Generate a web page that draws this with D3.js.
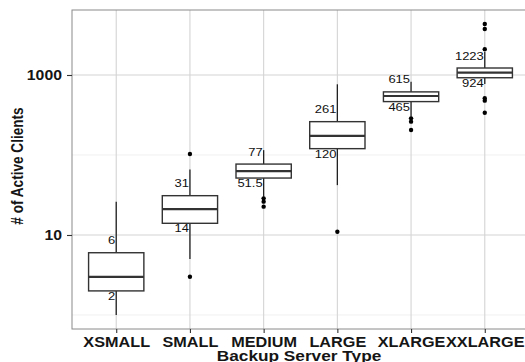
<!DOCTYPE html>
<html>
<head>
<meta charset="utf-8">
<script src="https://cdn.jsdelivr.net/npm/d3@7"></script>
<style>
  body { margin: 0; background: #fff; }
  svg { display: block; }
</style>
</head>
<body>
<script>
// data
var categories = ["XSMALL", "SMALL", "MEDIUM", "LARGE", "XLARGE", "XXLARGE"];
var q1 = [2, 14, 51.5, 120, 465, 924];
var q3 = [6, 31, 77, 261, 615, 1223];
var medians = [3, 21, 63, 173, 546, 1069];
var whiskerLow = [1, 5, 30, 42, 301, 772];
var whiskerHigh = [26, 66, 115, 765, 824, 1939];
var outliers = [
  [],
  [3, 103],
  [28.7, 26.1, 22.6],
  [11],
  [287, 261, 205],
  [4341, 3758, 2095, 511, 478, 338]
];
var labelsHigh = ["6", "31", "77", "261", "615", "1223"];
var labelsLow = ["2", "14", "51.5", "120", "465", "924"];
var yTicks = [10, 1000];
var yMinor = [1, 100];

var W = 525, H = 362;
var PANEL = { left: 72, right: 529, top: 10, bottom: 329 };
var FONT = "'Liberation Sans', Arial, Helvetica, sans-serif";
var SX = 1.16; // text in the picture is stretched sideways
var TXT = "#151515";

var svg = d3.select("body").append("svg")
  .attr("width", W)
  .attr("height", H);

var x = d3.scalePoint()
  .domain(categories)
  .range([PANEL.left, PANEL.right])
  .padding(0.6);

var y = d3.scaleLog()
  .domain([0.668, 6494])
  .range([PANEL.bottom, PANEL.top]);

var step = x.step();
var boxW = step * 0.75;

var rows = categories.map(function(c, i) {
  return {
    cat: c, q1: q1[i], q3: q3[i], med: medians[i],
    lo: whiskerLow[i], hi: whiskerHigh[i], out: outliers[i],
    lh: labelsHigh[i], ll: labelsLow[i]
  };
});

// grid
var grid = svg.append("g");
grid.selectAll(".minor").data(yMinor).enter().append("line")
  .attr("x1", PANEL.left).attr("x2", PANEL.right)
  .attr("y1", function(d) { return y(d); })
  .attr("y2", function(d) { return y(d); })
  .style("stroke", "#f0f0f0").style("stroke-width", 1);
grid.selectAll(".major").data(yTicks).enter().append("line")
  .attr("x1", PANEL.left).attr("x2", PANEL.right)
  .attr("y1", function(d) { return y(d); })
  .attr("y2", function(d) { return y(d); })
  .style("stroke", "#d4d4d4").style("stroke-width", 1.1);
grid.selectAll(".vmajor").data(categories).enter().append("line")
  .attr("x1", function(d) { return x(d); })
  .attr("x2", function(d) { return x(d); })
  .attr("y1", PANEL.top).attr("y2", PANEL.bottom)
  .style("stroke", "#d4d4d4").style("stroke-width", 1.1);

// boxes
var g = svg.append("g");
var box = g.selectAll(".box").data(rows).enter().append("g");

box.append("line")
  .attr("x1", function(d) { return x(d.cat); })
  .attr("x2", function(d) { return x(d.cat); })
  .attr("y1", function(d) { return y(d.hi); })
  .attr("y2", function(d) { return y(d.q3); })
  .style("stroke", "#222").style("stroke-width", 1.3);
box.append("line")
  .attr("x1", function(d) { return x(d.cat); })
  .attr("x2", function(d) { return x(d.cat); })
  .attr("y1", function(d) { return y(d.q1); })
  .attr("y2", function(d) { return y(d.lo); })
  .style("stroke", "#222").style("stroke-width", 1.3);
box.append("rect")
  .attr("x", function(d) { return x(d.cat) - boxW / 2; })
  .attr("y", function(d) { return y(d.q3); })
  .attr("width", boxW)
  .attr("height", function(d) { return y(d.q1) - y(d.q3); })
  .style("fill", "#fff").style("stroke", "#333").style("stroke-width", 1.4);
box.append("line")
  .attr("x1", function(d) { return x(d.cat) - boxW / 2; })
  .attr("x2", function(d) { return x(d.cat) + boxW / 2; })
  .attr("y1", function(d) { return y(d.med); })
  .attr("y2", function(d) { return y(d.med); })
  .style("stroke", "#333").style("stroke-width", 2.2);
box.selectAll(".out").data(function(d) {
    return d.out.map(function(v) { return { cat: d.cat, v: v }; });
  }).enter().append("circle")
  .attr("cx", function(d) { return x(d.cat); })
  .attr("cy", function(d) { return y(d.v); })
  .attr("r", 2.2)
  .style("fill", "#000");

// quartile labels
box.append("text")
  .attr("transform", function(d) {
    return "translate(" + (x(d.cat) - 1) + "," + (y(d.q3) - 8.5) + ") scale(1.12,1)";
  })
  .attr("text-anchor", "end")
  .style("font-family", FONT).style("font-size", "11.6px").style("fill", "#111")
  .text(function(d) { return d.lh; });
box.append("text")
  .attr("transform", function(d) {
    return "translate(" + (x(d.cat) - 1) + "," + (y(d.q1) + 9) + ") scale(1.12,1)";
  })
  .attr("text-anchor", "end")
  .style("font-family", FONT).style("font-size", "11.6px").style("fill", "#111")
  .text(function(d) { return d.ll; });

// panel border
svg.append("rect")
  .attr("x", PANEL.left).attr("y", PANEL.top)
  .attr("width", PANEL.right - PANEL.left)
  .attr("height", PANEL.bottom - PANEL.top)
  .style("fill", "none").style("stroke", "#8a8a8a").style("stroke-width", 1);

// axes
var yAxis = svg.append("g")
  .attr("transform", "translate(" + PANEL.left + ",0)")
  .call(d3.axisLeft(y).tickValues(yTicks).tickFormat(d3.format("d")).tickSize(5).tickPadding(3));
yAxis.select(".domain").remove();
yAxis.selectAll(".tick line").style("stroke", "#333").style("stroke-width", 1.1);
yAxis.selectAll(".tick text")
  .attr("x", null).attr("dy", null)
  .attr("transform", "translate(-10,5) scale(1.13,1)")
  .style("font-family", FONT).style("font-size", "14px")
  .style("font-weight", "bold").style("fill", TXT);

var xAxis = svg.append("g")
  .attr("transform", "translate(0," + PANEL.bottom + ")")
  .call(d3.axisBottom(x).tickSize(4).tickPadding(3));
xAxis.select(".domain").remove();
xAxis.selectAll(".tick line").style("stroke", "#333").style("stroke-width", 1.1);
xAxis.selectAll(".tick text")
  .attr("y", null).attr("dy", null)
  .attr("transform", "translate(0,18) scale(" + SX + ",1)")
  .style("font-family", FONT).style("font-size", "14px")
  .style("font-weight", "bold").style("fill", TXT);

// titles
svg.append("text")
  .attr("transform", "translate(299,360.5) scale(1.19,1)")
  .attr("text-anchor", "middle")
  .style("font-family", FONT).style("font-size", "14.5px")
  .style("font-weight", "bold").style("fill", TXT)
  .text("Backup Server Type");
svg.append("text")
  .attr("transform", "translate(23,166) scale(1.15,1) rotate(-90)")
  .attr("text-anchor", "middle")
  .style("font-family", FONT).style("font-size", "13.6px")
  .style("font-weight", "bold").style("fill", TXT)
  .text("# of Active Clients");
</script>
</body>
</html>
